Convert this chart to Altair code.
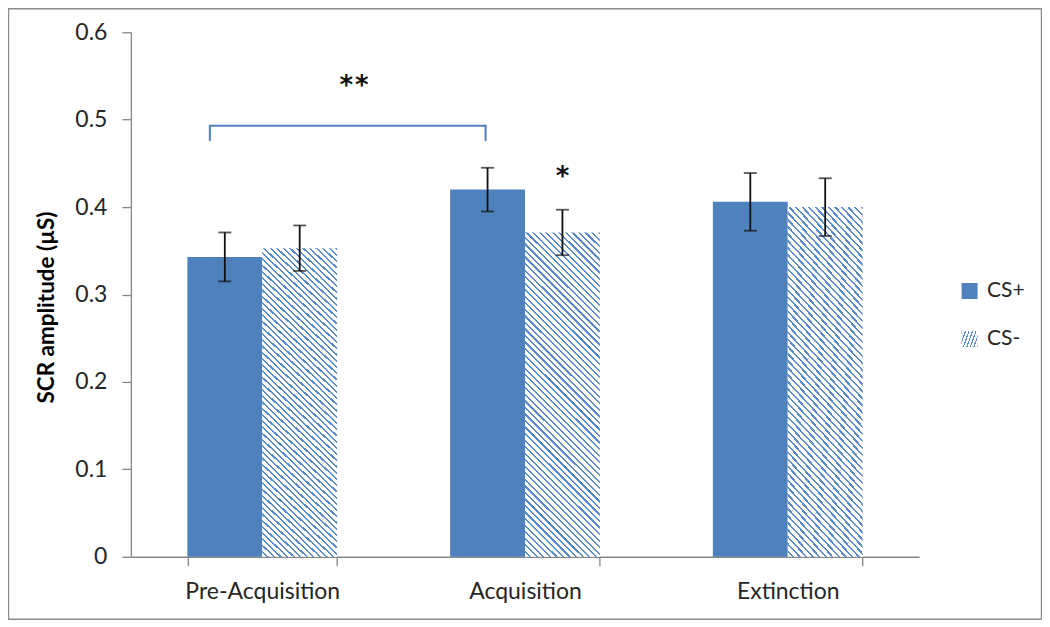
import altair as alt
import pandas as pd

# ---------------- data ----------------
phases = ["Pre-Acquisition", "Acquisition", "Extinction"]
groups = ["CS+", "CS-"]
cs_plus_mean = [0.343, 0.420, 0.406]
cs_minus_mean = [0.353, 0.371, 0.400]
cs_plus_sem = [0.028, 0.025, 0.033]
cs_minus_sem = [0.026, 0.026, 0.033]
y_ticks = [0, 0.1, 0.2, 0.3, 0.4, 0.5, 0.6]

bracket_from = "Pre-Acquisition"
bracket_to = "Acquisition"
bracket_top = 0.493
bracket_bottom = 0.4766

star_text = ["**", "*"]
star_phase = ["Pre-Acquisition", "Acquisition"]
star_y = [0.544, 0.440]

# ---------------- tables ----------------
rows = []
for i, p in enumerate(phases):
    rows.append({"phase": p, "group": "CS+", "mean": cs_plus_mean[i],
                 "lo": cs_plus_mean[i] - cs_plus_sem[i], "hi": cs_plus_mean[i] + cs_plus_sem[i]})
    rows.append({"phase": p, "group": "CS-", "mean": cs_minus_mean[i],
                 "lo": cs_minus_mean[i] - cs_minus_sem[i], "hi": cs_minus_mean[i] + cs_minus_sem[i]})
df = pd.DataFrame(rows)
caps = pd.concat([
    df[["phase", "group", "lo"]].rename(columns={"lo": "v"}),
    df[["phase", "group", "hi"]].rename(columns={"hi": "v"}),
])

BLUE = "#4f81bd"
HATCH = "#5b8bc8"
AXIS_GRAY = "#868686"
FONT = "Lato"


def hatch_expr(n=61, frac=0.34, color=HATCH):
    stops = []
    for i in range(n):
        a = i / n
        b = (i + 1 - frac) / n
        c = (i + 1) / n
        stops += [(a, "#ffffff"), (b, "#ffffff"), (b, color), (c, color)]
    s = ",".join("{offset:%.5f,color:'%s'}" % (o, col) for o, col in stops)
    return "{gradient:'linear',x1:0,y1:1,x2:0.269,y2:-0.168,stops:[" + s + "]}"


x_scale = alt.Scale(domain=phases, paddingInner=0.43, paddingOuter=0.215)
y_scale = alt.Scale(domain=[0, 0.6], nice=False)

x_enc = alt.X("phase:N", scale=x_scale, sort=phases,
              axis=alt.Axis(title=None, labelAngle=0, tickBand="extent",
                            labelFontSize=23, labelColor="#262626", labelPadding=15,
                            domainColor=AXIS_GRAY, tickColor=AXIS_GRAY, tickSize=9,
                            domainWidth=1.3, tickWidth=1.3, grid=False))
y_axis = alt.Axis(values=y_ticks, format=".1~f", title="SCR amplitude (µS)",
                  titleFontSize=22.5, titleFontWeight="bold", titleColor="#000000",
                  titlePadding=16, titleY=275, labelFontSize=23, labelColor="#262626",
                  labelPadding=15, domainColor=AXIS_GRAY, tickColor=AXIS_GRAY, tickSize=9,
                  domainWidth=1.3, tickWidth=1.3, grid=False)
xoff = alt.XOffset("group:N", scale=alt.Scale(domain=groups))

frame = alt.Chart(pd.DataFrame({"a": [0]})).mark_rect(
    fill="transparent", stroke="#8c8c8c", strokeWidth=1.5
).encode(x=alt.value(-122.5), x2=alt.value(911.5), y=alt.value(-23.5), y2=alt.value(587.5))

bars = alt.Chart(df).mark_bar(strokeWidth=0).encode(
    x=x_enc,
    xOffset=xoff,
    y=alt.Y("mean:Q", scale=y_scale, axis=y_axis),
    fill=alt.Fill("group:N",
                  scale=alt.Scale(domain=groups, range=[BLUE, alt.ExprRef(expr=hatch_expr())]),
                  legend=alt.Legend(title=None, orient="none", legendX=829, legendY=248.5,
                                    symbolType="square", symbolSize=256, symbolStrokeWidth=0,
                                    labelFontSize=21, labelColor="#262626", labelOffset=7,
                                    rowPadding=26, padding=0)),
)

err = alt.Chart(df).mark_rule(color="#111111", strokeWidth=1.8).encode(
    x="phase:N", xOffset=xoff, y="lo:Q", y2="hi:Q")

cap = alt.Chart(caps).mark_tick(color="#111111", thickness=1.8, size=13).encode(
    x="phase:N", xOffset=xoff, y=alt.Y("v:Q"))

bdf = pd.DataFrame({"a": [bracket_from], "b": [bracket_to],
                    "top": [bracket_top], "bottom": [bracket_bottom]})
bracket_h = alt.Chart(bdf).mark_rule(color=BLUE, strokeWidth=2, strokeCap="round").encode(
    x=alt.X("a:N", bandPosition=0.15), x2=alt.X2("b:N", bandPosition=0.237), y="top:Q")
bracket_l = alt.Chart(bdf).mark_rule(color=BLUE, strokeWidth=2, strokeCap="round").encode(
    x=alt.X("a:N", bandPosition=0.15), y="bottom:Q", y2="top:Q")
bracket_r = alt.Chart(bdf).mark_rule(color=BLUE, strokeWidth=2, strokeCap="round").encode(
    x=alt.X("b:N", bandPosition=0.237), y="bottom:Q", y2="top:Q")

sdf = pd.DataFrame({"t": star_text, "phase": star_phase, "y": star_y})
star_style = dict(font="DejaVu Sans Mono", fontSize=26, fontWeight="bold", baseline="alphabetic",
                  dy=13, color="#111111")
star1 = alt.Chart(sdf.iloc[[0]]).mark_text(dx=17, **star_style).encode(
    x=alt.X("phase:N", bandPosition=1), y="y:Q", text="t:N")
star2 = alt.Chart(sdf.iloc[[1]]).mark_text(**star_style).encode(
    x=alt.X("phase:N", bandPosition=0.75), y="y:Q", text="t:N")

chart = alt.layer(frame, bars, err, cap, bracket_h, bracket_l, bracket_r, star1, star2).properties(
    width=789, height=525,
    autosize=alt.AutoSizeParams(type="none"),
    padding={"left": 123, "top": 24, "right": 123, "bottom": 63},
    background="white",
).configure(font=FONT).configure_view(strokeOpacity=0)

chart.save("out.html", embed_options={"renderer": "svg", "actions": False})
